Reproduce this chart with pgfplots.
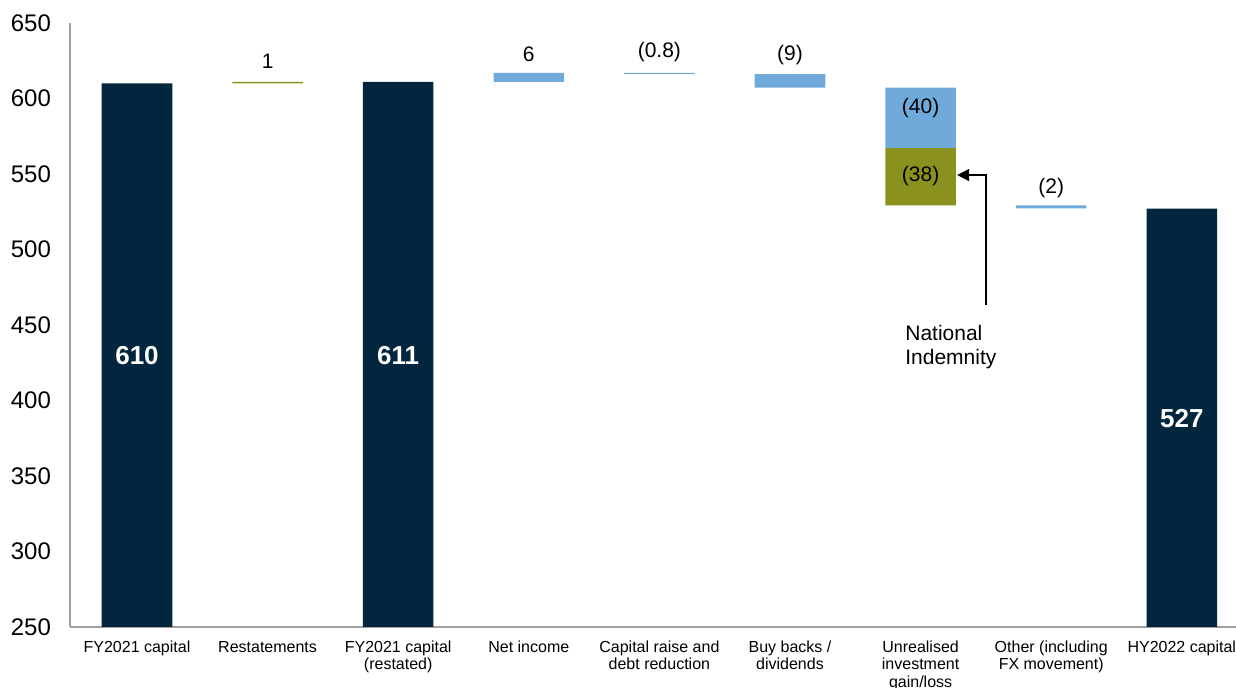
\documentclass[border=0pt]{standalone}
\usepackage{pgfplots}
\pgfplotsset{compat=1.18}
\usepackage{fontspec}
\setmainfont{Liberation Sans}
\usetikzlibrary{arrows.meta}
\definecolor{navy}{HTML}{02263E}
\definecolor{lblue}{HTML}{6FAADB}
\definecolor{olive}{HTML}{8A911F}
\definecolor{axgray}{HTML}{A0A0A0}
\begin{document}
\begin{tikzpicture}
\begin{axis}[
  scale only axis, width=583pt, height=302pt,
  xmin=-0.513, xmax=8.415, ymin=250, ymax=650,
  ytick={250,300,...,650},
  xtick={0,...,8},
  xticklabels={FY2021 capital, Restatements, {FY2021 capital\\(restated)}, Net income,
    {Capital raise and\\debt reduction}, {Buy backs /\\dividends},
    {Unrealised\\investment\\gain/loss}, {Other (including\\FX movement)}, HY2022 capital},
  ybar stacked, bar width=0.54,
  axis x line*=bottom, axis y line*=left,
  axis line style={draw=axgray, line width=0.75pt, -},
  major tick length=0pt,
  /pgf/number format/assume math mode=true,
  yticklabel style={font=\fontsize{12}{14}\selectfont, xshift=-6pt},
  xticklabel style={font=\fontsize{8}{8.6}\selectfont, align=center, yshift=-3.5pt},
]
\addplot[fill=none, draw=none] coordinates {(0,0) (1,610) (2,0) (3,611) (4,616.2) (5,607.2) (6,529.2) (7,527.2) (8,0)};
\addplot[fill=navy, draw=none] coordinates {(0,610) (1,0) (2,611) (3,0) (4,0) (5,0) (6,0) (7,0) (8,527)};
\addplot[fill=olive, draw=none] coordinates {(0,0) (1,1) (2,0) (3,0) (4,0) (5,0) (6,38) (7,0) (8,0)};
\addplot[fill=lblue, draw=none] coordinates {(0,0) (1,0) (2,0) (3,6) (4,0.8) (5,9) (6,40) (7,2) (8,0)};

\coordinate (l1) at (axis cs:1,624.5);
\coordinate (l3) at (axis cs:3,629);
\coordinate (l4) at (axis cs:4,631);
\coordinate (l5) at (axis cs:5,629);
\coordinate (l6a) at (axis cs:6,593.5);
\coordinate (l6b) at (axis cs:6,548.5);
\coordinate (l7) at (axis cs:7,541);
\coordinate (b0) at (axis cs:0,430);
\coordinate (b2) at (axis cs:2,430);
\coordinate (b8) at (axis cs:8,388);
\coordinate (a1) at (axis cs:6.5,463);
\coordinate (a2) at (axis cs:6.5,549.3);
\coordinate (a3) at (axis cs:6.28,549.3);
\coordinate (nt) at (axis cs:5.88,450);
\end{axis}
\begin{scope}[every node/.style={font=\fontsize{10.5}{12}\selectfont}]
\node at (l1) {1};
\node at (l3) {6};
\node at (l4) {(0.8)};
\node at (l5) {(9)};
\node at (l6a) {(40)};
\node at (l6b) {(38)};
\node at (l7) {(2)};
\node[font=\bfseries\fontsize{13}{15}\selectfont, text=white] at (b0) {610};
\node[font=\bfseries\fontsize{13}{15}\selectfont, text=white] at (b2) {611};
\node[font=\bfseries\fontsize{13}{15}\selectfont, text=white] at (b8) {527};
\draw[line width=0.75pt, -{Triangle[length=6pt,width=6pt]}] (a1) -- (a2) -- (a3);
\node[align=left, anchor=north west, inner sep=0pt] at (nt) {National\\Indemnity};
\end{scope}
\pgfresetboundingbox
\useasboundingbox (-35pt,-30.5pt) rectangle (583pt,313.5pt);
\end{tikzpicture}
\end{document}
